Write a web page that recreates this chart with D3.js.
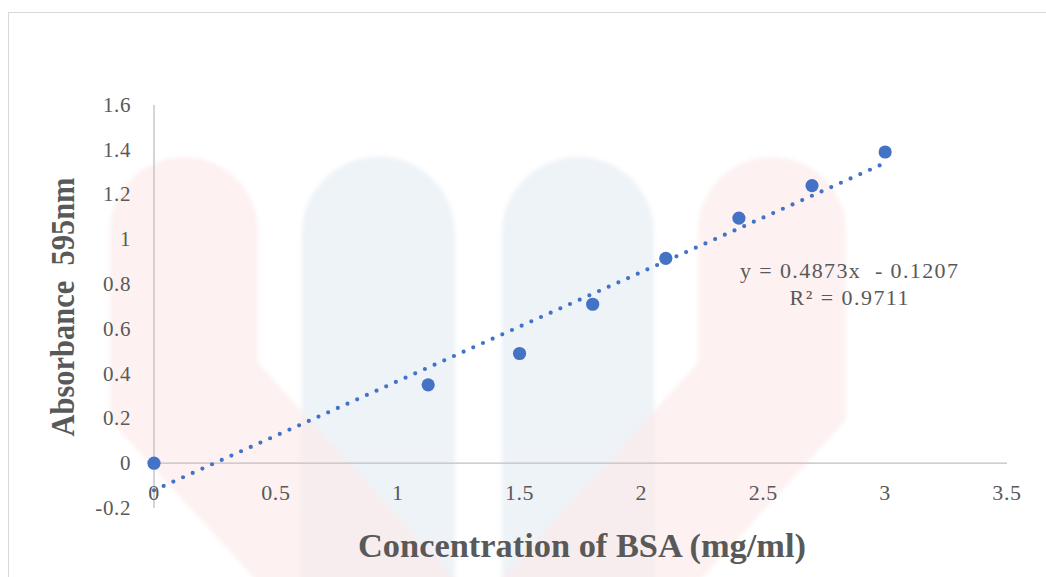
<!DOCTYPE html>
<html>
<head>
<meta charset="utf-8">
<script src="https://cdn.jsdelivr.net/npm/d3@7"></script>
<style>
  body { margin: 0; background: #fff; }
  svg { display: block; }
</style>
</head>
<body>
<div id="chart"></div>
<script>
// BSA standard curve
var concentration = [0, 1.125, 1.5, 1.8, 2.1, 2.4, 2.7, 3];
var absorbance = [0, 0.35, 0.49, 0.71, 0.915, 1.095, 1.24, 1.39];
var xTicks = [0, 0.5, 1, 1.5, 2, 2.5, 3, 3.5];
var yTicks = [-0.2, 0, 0.2, 0.4, 0.6, 0.8, 1, 1.2, 1.4, 1.6];
var yTickLabels = ['-0.2', '0', '0.2', '0.4', '0.6', '0.8', '1', '1.2', '1.4', '1.6'];
var slope = 0.4873, intercept = -0.1207, rSquared = 0.9711;

var W = 1046, H = 577;
var margin = {top: 105, right: 39, bottom: 69, left: 154};
var width = W - margin.left - margin.right;
var height = H - margin.top - margin.bottom;

var svg = d3.select('#chart').append('svg')
  .attr('width', W)
  .attr('height', H);

svg.append('defs').append('filter')
  .attr('id', 'soft')
  .append('feGaussianBlur').attr('stdDeviation', 2);

svg.append('rect')
  .attr('x', 8.5).attr('y', 12.5)
  .attr('width', W + 20).attr('height', H + 20)
  .attr('fill', '#fff')
  .attr('stroke', '#d9d9d9');

// faint watermark behind the chart
var wm = svg.append('g').attr('filter', 'url(#soft)');
wm.append('path')
  .attr('d', 'M302,590 L302,233 A76.5,76.5 0 0 1 455,233 L455,590 Z')
  .attr('fill', '#eef3f8');
wm.append('path')
  .attr('d', 'M502,590 L502,233 A76,76 0 0 1 654,233 L654,590 Z')
  .attr('fill', '#eef3f8');
wm.append('path')
  .attr('d', 'M110,231 A74,74 0 0 1 258,231 L258,363 L465,590 L265,590 L110,420 Z')
  .attr('fill', '#fce8e8').attr('opacity', 0.62);
wm.append('path')
  .attr('d', 'M846,231 A74,74 0 0 0 698,231 L698,363 L491,590 L691,590 L846,420 Z')
  .attr('fill', '#fce8e8').attr('opacity', 0.62);

var g = svg.append('g')
  .attr('transform', 'translate(' + margin.left + ',' + margin.top + ')');

var x = d3.scaleLinear().domain([0, 3.5]).range([0, width]);
var y = d3.scaleLinear().domain([-0.2, 1.6]).range([height, 0]);

// axis lines
g.append('line')
  .attr('x1', x(0)).attr('x2', x(3.5))
  .attr('y1', y(0)).attr('y2', y(0))
  .attr('stroke', '#bfbfbf').attr('stroke-width', 1.3);
g.append('line')
  .attr('x1', x(0)).attr('x2', x(0))
  .attr('y1', y(1.6)).attr('y2', y(-0.2))
  .attr('stroke', '#bfbfbf').attr('stroke-width', 1.3);

// tick labels
g.selectAll('.ytick')
  .data(yTicks)
  .enter().append('text')
    .attr('class', 'ytick')
    .attr('x', -23)
    .attr('y', function(d) { return y(d); })
    .attr('dy', '0.33em')
    .attr('text-anchor', 'end')
    .attr('font-family', 'Liberation Serif, Times New Roman, serif')
    .attr('font-size', '21px')
    .attr('letter-spacing', '0.6px')
    .attr('fill', '#595959')
    .text(function(d, i) { return yTickLabels[i]; });

g.selectAll('.xtick')
  .data(xTicks)
  .enter().append('text')
    .attr('class', 'xtick')
    .attr('x', function(d) { return x(d); })
    .attr('y', y(0) + 37)
    .attr('text-anchor', 'middle')
    .attr('font-family', 'Liberation Serif, Times New Roman, serif')
    .attr('font-size', '22px')
    .attr('letter-spacing', '0.6px')
    .attr('fill', '#595959')
    .text(function(d) { return d; });

// linear trendline, dotted
var trend = [0, 3];
g.append('path')
  .datum(trend)
  .attr('fill', 'none')
  .attr('stroke', '#4472c4')
  .attr('stroke-width', 4.2)
  .attr('stroke-linecap', 'round')
  .attr('stroke-dasharray', '0 10.6')
  .attr('d', d3.line()
    .x(function(d) { return x(d); })
    .y(function(d) { return y(slope * d + intercept); }));

// data points
g.selectAll('.pt')
  .data(concentration)
  .enter().append('circle')
    .attr('class', 'pt')
    .attr('cx', function(d) { return x(d); })
    .attr('cy', function(d, i) { return y(absorbance[i]); })
    .attr('r', 6.6)
    .attr('fill', '#4472c4');

// trendline equation
var eq = g.append('text')
  .attr('font-family', 'Liberation Serif, Times New Roman, serif')
  .attr('font-size', '22px')
  .attr('fill', '#595959')
  .attr('text-anchor', 'middle');
eq.append('tspan')
  .attr('x', 849 - margin.left).attr('y', 278 - margin.top)
  .attr('textLength', 218).attr('lengthAdjust', 'spacing')
  .attr('xml:space', 'preserve')
  .text('y = ' + slope + 'x  - ' + Math.abs(intercept));
eq.append('tspan')
  .attr('x', 849 - margin.left).attr('y', 305 - margin.top)
  .attr('textLength', 119).attr('lengthAdjust', 'spacing')
  .text('R² = ' + rSquared);

// axis titles
svg.append('text')
  .attr('x', 582).attr('y', 557)
  .attr('text-anchor', 'middle')
  .attr('font-family', 'Liberation Serif, Times New Roman, serif')
  .attr('font-weight', 'bold')
  .attr('font-size', '33px')
  .attr('textLength', 448).attr('lengthAdjust', 'spacingAndGlyphs')
  .attr('fill', '#595959')
  .text('Concentration of BSA (mg/ml)');

svg.append('text')
  .attr('transform', 'translate(74,307) rotate(-90)')
  .attr('text-anchor', 'middle')
  .attr('font-family', 'Liberation Serif, Times New Roman, serif')
  .attr('font-weight', 'bold')
  .attr('font-size', '33px')
  .attr('textLength', 259).attr('lengthAdjust', 'spacingAndGlyphs')
  .attr('xml:space', 'preserve')
  .attr('fill', '#595959')
  .text('Absorbance  595nm');
</script>
</body>
</html>
